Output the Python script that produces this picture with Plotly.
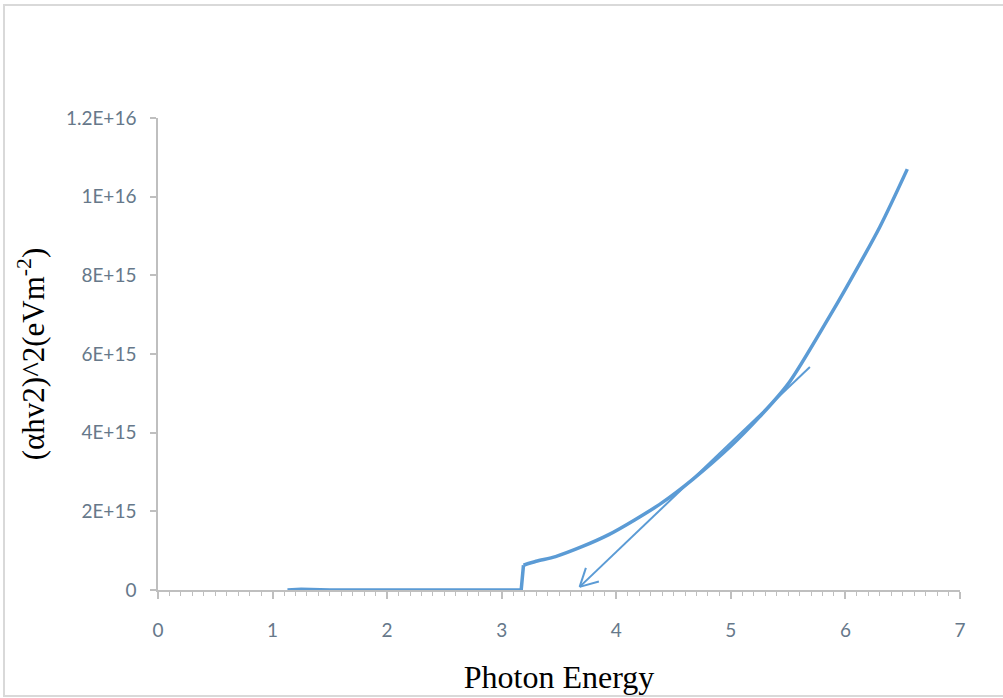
import math
import plotly.graph_objects as go

# ---- data ----
photon_energy = [1.13, 1.25, 1.5, 2.0, 2.5, 2.75, 3.0, 3.17, 3.19, 3.3, 3.47, 3.7,
                 3.93, 4.16, 4.4, 4.67, 5.0, 5.25, 5.5, 5.85, 6.0, 6.3, 6.54]
alpha_hv_sq = [0.0, 0.02e15, 0.0, 0.0, 0.0, 0.01e15, 0.0, 0.0, 0.63e15, 0.73e15,
               0.85e15, 1.10e15, 1.40e15, 1.78e15, 2.22e15, 2.82e15, 3.66e15,
               4.40e15, 5.24e15, 6.90e15, 7.65e15, 9.23e15, 10.70e15]
jump_index = 8  # first point after the absorption edge step

# tangent line (start, arrow tip)
tangent_x = [5.69, 3.68]
tangent_y = [5.67e15, 0.08e15]

x_tickvals = [0, 1, 2, 3, 4, 5, 6, 7]
x_ticktext = ["0", "1", "2", "3", "4", "5", "6", "7"]
y_tickvals = [0, 2e15, 4e15, 6e15, 8e15, 1e16, 1.2e16]
y_ticktext = ["0", "2E+15", "4E+15", "6E+15", "8E+15", "1E+16", "1.2E+16"]

# ---- layout geometry ----
W, H = 1003, 698
ML, MR, MT, MB = 158, 43, 118, 108
PW, PH = W - ML - MR, H - MT - MB
XR = [0, 7]
YR = [0, 1.2e16]

BLUE = "#5B9BD5"
AXIS = "#BFBFBF"
TICKFONT = dict(family="Lato", size=19, color="#66788A")

fig = go.Figure()
# flat part and step (straight segments)
fig.add_trace(go.Scatter(x=photon_energy[:jump_index + 1], y=alpha_hv_sq[:jump_index + 1],
                         mode="lines", line=dict(color=BLUE, width=3.5),
                         hoverinfo="skip", showlegend=False))
# rising part (smooth)
fig.add_trace(go.Scatter(x=photon_energy[jump_index:], y=alpha_hv_sq[jump_index:],
                         mode="lines", line=dict(color=BLUE, width=3.5, shape="spline",
                                                 smoothing=0.8),
                         hoverinfo="skip", showlegend=False))
fig.add_trace(go.Scatter(x=tangent_x, y=tangent_y, mode="lines",
                         line=dict(color=BLUE, width=2), hoverinfo="skip",
                         showlegend=False))

# open arrow head at tangent tip (barbs computed in pixel space)
sx = PW / (XR[1] - XR[0])
sy = PH / (YR[1] - YR[0])
dx_px = (tangent_x[0] - tangent_x[1]) * sx
dy_px = (tangent_y[0] - tangent_y[1]) * sy
ang = math.atan2(dy_px, dx_px)
barb_len = 20
for d in (math.radians(28), -math.radians(28)):
    a = ang + d
    bx = tangent_x[1] + barb_len * math.cos(a) / sx
    by = tangent_y[1] + barb_len * math.sin(a) / sy
    fig.add_trace(go.Scatter(x=[tangent_x[1], bx], y=[tangent_y[1], by], mode="lines",
                             line=dict(color=BLUE, width=2), hoverinfo="skip",
                             showlegend=False))

fig.update_layout(
    width=W, height=H,
    margin=dict(l=ML, r=MR, t=MT, b=MB),
    paper_bgcolor="white", plot_bgcolor="white",
    showlegend=False,
    xaxis=dict(range=XR, tickvals=x_tickvals, ticktext=x_ticktext, automargin=False,
               showgrid=False, zeroline=False, showline=True, linecolor=AXIS,
               linewidth=1.5, ticks="outside", ticklen=7, tickcolor=AXIS,
               tickwidth=1.5, tickfont=TICKFONT, ticklabelstandoff=15,
               minor=dict(dtick=0.1, ticks="outside", ticklen=4, tickcolor=AXIS,
                          tickwidth=1, showgrid=False),
               title=dict(text="Photon Energy",
                          font=dict(family="Liberation Serif", size=32, color="black"),
                          standoff=26)),
    yaxis=dict(range=YR, tickvals=y_tickvals, ticktext=y_ticktext, automargin=False,
               showgrid=False, zeroline=False, showline=True, linecolor=AXIS,
               linewidth=1.5, ticks="outside", ticklen=6, tickcolor=AXIS,
               tickwidth=1.5, tickfont=TICKFONT, ticklabelstandoff=10,
               title=dict(text="(αhv2)^2(eVm<sup>-2</sup>)",
                          font=dict(family="Liberation Serif", size=31, color="black"),
                          standoff=12)),
    shapes=[dict(type="rect", xref="paper", yref="paper",
                 x0=(4 - ML) / PW, x1=(1006 - ML) / PW,
                 y0=(H - MB - 696) / PH, y1=(H - MB - 5) / PH,
                 line=dict(color="#D9D9D9", width=2), layer="below")],
)

fig.write_html("out.html")
